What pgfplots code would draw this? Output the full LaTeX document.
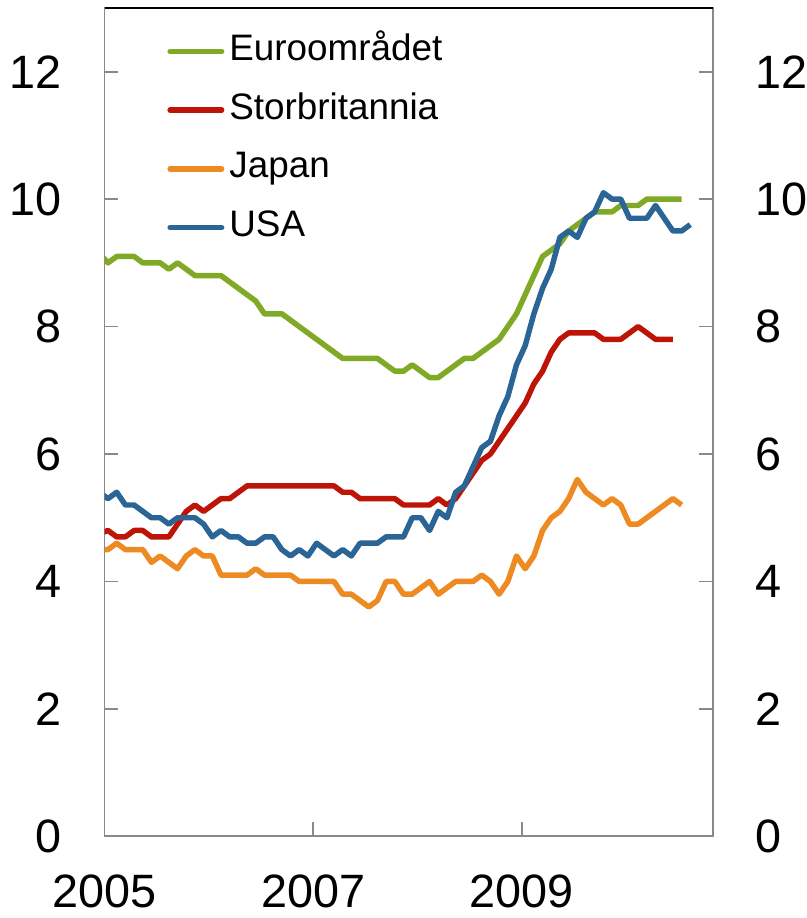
\documentclass[border=0pt]{standalone}
\usepackage{fontspec}
\setmainfont{Liberation Sans}
\usepackage{pgfplots}
\pgfplotsset{compat=1.18}
\usepackage{pgfplotstable}

\definecolor{cgreen}{RGB}{128,170,38}
\definecolor{cred}{RGB}{190,20,8}
\definecolor{corange}{RGB}{238,138,34}
\definecolor{cblue}{RGB}{42,101,150}
\definecolor{cgray}{RGB}{137,137,137}

\pgfplotstableread{
k v
-1 9.15
0 9.0
1 9.1
2 9.1
3 9.1
4 9.0
5 9.0
6 9.0
7 8.9
8 9.0
9 8.9
10 8.8
11 8.8
12 8.8
13 8.8
14 8.7
15 8.6
16 8.5
17 8.4
18 8.2
19 8.2
20 8.2
21 8.1
22 8.0
23 7.9
24 7.8
25 7.7
26 7.6
27 7.5
28 7.5
29 7.5
30 7.5
31 7.5
32 7.4
33 7.3
34 7.3
35 7.4
36 7.3
37 7.2
38 7.2
39 7.3
40 7.4
41 7.5
42 7.5
43 7.6
44 7.7
45 7.8
46 8.0
47 8.2
48 8.5
49 8.8
50 9.1
51 9.2
52 9.3
53 9.5
54 9.6
55 9.7
56 9.8
57 9.8
58 9.8
59 9.9
60 9.9
61 9.9
62 10.0
63 10.0
64 10.0
65 10.0
66 10.0
}\euro

\pgfplotstableread{
k v
-1 4.75
0 4.8
1 4.7
2 4.7
3 4.8
4 4.8
5 4.7
6 4.7
7 4.7
8 4.9
9 5.1
10 5.2
11 5.1
12 5.2
13 5.3
14 5.3
15 5.4
16 5.5
17 5.5
18 5.5
19 5.5
20 5.5
21 5.5
22 5.5
23 5.5
24 5.5
25 5.5
26 5.5
27 5.4
28 5.4
29 5.3
30 5.3
31 5.3
32 5.3
33 5.3
34 5.2
35 5.2
36 5.2
37 5.2
38 5.3
39 5.2
40 5.3
41 5.5
42 5.7
43 5.9
44 6.0
45 6.2
46 6.4
47 6.6
48 6.8
49 7.1
50 7.3
51 7.6
52 7.8
53 7.9
54 7.9
55 7.9
56 7.9
57 7.8
58 7.8
59 7.8
60 7.9
61 8.0
62 7.9
63 7.8
64 7.8
65 7.8
}\uk

\pgfplotstableread{
k v
-1 4.5
0 4.5
1 4.6
2 4.5
3 4.5
4 4.5
5 4.3
6 4.4
7 4.3
8 4.2
9 4.4
10 4.5
11 4.4
12 4.4
13 4.1
14 4.1
15 4.1
16 4.1
17 4.2
18 4.1
19 4.1
20 4.1
21 4.1
22 4.0
23 4.0
24 4.0
25 4.0
26 4.0
27 3.8
28 3.8
29 3.7
30 3.6
31 3.7
32 4.0
33 4.0
34 3.8
35 3.8
36 3.9
37 4.0
38 3.8
39 3.9
40 4.0
41 4.0
42 4.0
43 4.1
44 4.0
45 3.8
46 4.0
47 4.4
48 4.2
49 4.4
50 4.8
51 5.0
52 5.1
53 5.3
54 5.6
55 5.4
56 5.3
57 5.2
58 5.3
59 5.2
60 4.9
61 4.9
62 5.0
63 5.1
64 5.2
65 5.3
66 5.2
}\japan

\pgfplotstableread{
k v
-1 5.4
0 5.3
1 5.4
2 5.2
3 5.2
4 5.1
5 5.0
6 5.0
7 4.9
8 5.0
9 5.0
10 5.0
11 4.9
12 4.7
13 4.8
14 4.7
15 4.7
16 4.6
17 4.6
18 4.7
19 4.7
20 4.5
21 4.4
22 4.5
23 4.4
24 4.6
25 4.5
26 4.4
27 4.5
28 4.4
29 4.6
30 4.6
31 4.6
32 4.7
33 4.7
34 4.7
35 5.0
36 5.0
37 4.8
38 5.1
39 5.0
40 5.4
41 5.5
42 5.8
43 6.1
44 6.2
45 6.6
46 6.9
47 7.4
48 7.7
49 8.2
50 8.6
51 8.9
52 9.4
53 9.5
54 9.4
55 9.7
56 9.8
57 10.1
58 10.0
59 10.0
60 9.7
61 9.7
62 9.7
63 9.9
64 9.7
65 9.5
66 9.5
67 9.6
}\usa

\begin{document}
\begin{tikzpicture}
\begin{axis}[
  name=ax,
  at={(0,0)}, anchor=south west,
  scale only axis,
  width=611pt, height=832pt,
  xmin=0, xmax=70, ymin=0, ymax=13,
  axis line style={draw=cgray, line width=1.8pt},
  xtick={0,24,48},
  xticklabels={2005,2007,2009},
  xtick pos=left,
  ytick={0,2,...,12},
  ytick pos=both,
  tick align=inside,
  major tick length=14pt,
  major tick style={draw=cgray, line width=1.8pt},
  /pgf/number format/assume math mode=true,
  yticklabel style={font=\fontsize{47pt}{47pt}\selectfont, anchor=east, inner sep=0pt, xshift=-43pt},
  xticklabel style={font=\fontsize{47pt}{47pt}\selectfont, anchor=north, inner sep=0pt, yshift=-38pt},
  legend cell align=left,
  legend style={at={(axis description cs:0.103,0.970)}, anchor=north west,
    draw=none, fill=none, inner sep=0pt, row sep=22pt, column sep=5pt,
    font=\fontsize{37pt}{37pt}\selectfont,
    nodes={inner sep=0pt, text height=27.5pt, text depth=9.5pt}},
  legend image code/.code={\draw[#1, line width=5.5pt, line cap=round] (2.75pt,0pt) -- (54.5pt,0pt);},
]
\addplot[cgreen, line width=5.5pt, line join=round] table[x expr=\thisrow{k}+0.4, y=v] {\euro};
\addlegendentry{Euroområdet}
\addplot[cred, line width=5.5pt, line join=round] table[x expr=\thisrow{k}+0.4, y=v] {\uk};
\addlegendentry{Storbritannia}
\addplot[corange, line width=5.5pt, line join=round] table[x expr=\thisrow{k}+0.4, y=v] {\japan};
\addlegendentry{Japan}
\addplot[cblue, line width=5.5pt, line join=round] table[x expr=\thisrow{k}+0.4, y=v] {\usa};
\addlegendentry{USA}
\end{axis}
\begin{axis}[
  at={(0,0)}, anchor=south west,
  scale only axis,
  width=611pt, height=832pt,
  xmin=0, xmax=70, ymin=0, ymax=13,
  axis x line=none,
  axis y line*=right,
  y axis line style={draw=none},
  ytick={0,2,...,12},
  major tick length=0pt,
  /pgf/number format/assume math mode=true,
  yticklabel style={font=\fontsize{47pt}{47pt}\selectfont, anchor=west, inner sep=0pt, xshift=43pt},
]
\addplot[draw=none] coordinates {(1,1)};
\end{axis}
\draw[black, line width=1.2pt] (ax.north west) -- (ax.north east);
\pgfresetboundingbox
\path[use as bounding box] ([shift={(-105pt,-82pt)}]ax.south west) rectangle ([shift={(94pt,8pt)}]ax.north east);
\end{tikzpicture}
\end{document}
